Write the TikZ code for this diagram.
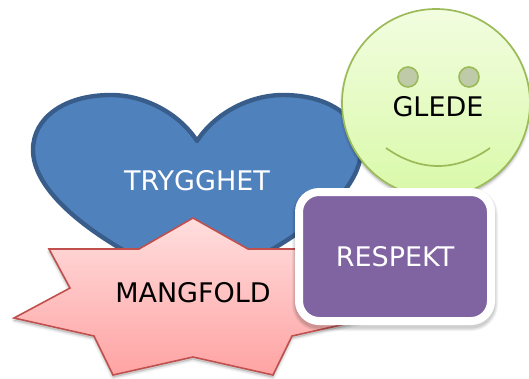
\documentclass[tikz,border=0pt]{standalone}
\usepackage{fontspec}
\setmainfont{DejaVu Sans}
\definecolor{heartfill}{HTML}{4F81BD}
\definecolor{heartline}{HTML}{385D8A}
\definecolor{starline}{HTML}{C0504D}
\definecolor{startop}{HTML}{FFDEDE}
\definecolor{starbot}{HTML}{FFA3A3}
\definecolor{facetop}{HTML}{F2FDE0}
\definecolor{facebot}{HTML}{D9F9A8}
\definecolor{faceline}{HTML}{9BBB59}
\definecolor{eyefill}{HTML}{BFCBA8}
\definecolor{boxfill}{HTML}{8064A2}
\tikzset{
  softshadow/.style={draw=black,fill=black,opacity=0.035,line join=round},
  heartshape/.style={draw=heartline,fill=heartfill,line width=4.4pt,line join=round},
  starshape/.style={draw=starline,line width=1.6pt,top color=startop,bottom color=starbot,line join=miter},
  faceshape/.style={draw=faceline,line width=1.7pt,top color=facetop,bottom color=facebot},
  eyeshape/.style={draw=faceline,fill=eyefill,line width=1.6pt},
  boxshape/.style={draw=white,fill=boxfill,line width=8pt,rounded corners=20pt},
  darklabel/.style={text=black,font=\fontsize{27}{32}\selectfont,inner sep=0pt},
  lightlabel/.style={text=white,font=\fontsize{27}{32}\selectfont,inner sep=0pt}
}
\newcommand{\starpath}{(193,218) -- (248,249) -- (337,249) -- (316,288) -- (372,318) -- (292,336) -- (273,375) -- (193,357) -- (113,375) -- (94,336) -- (14,318) -- (70,288) -- (49,249) -- (139,249) -- cycle}
\begin{document}
\begin{tikzpicture}[x=1pt,y=-1pt]
\useasboundingbox (0,0) rectangle (529,378);
% heart
\draw[heartshape] (197,141) .. controls (215,113) and (250,95) .. (283,95)
  .. controls (330,95) and (361,118) .. (361,150)
  .. controls (361,205) and (260,262) .. (197,285)
  .. controls (134,262) and (33,205) .. (33,150)
  .. controls (33,118) and (64,95) .. (111,95)
  .. controls (144,95) and (179,113) .. (197,141) -- cycle;
\node[lightlabel] (trygghet) at (197,181) {TRYGGHET};
% star
\foreach \w in {5,3.5,2,0.5}{
  \draw[softshadow,line width=\w pt,yshift=-2.5pt] \starpath;
}
\draw[starshape] \starpath;
\node[darklabel] (mangfold) at (193,293) {MANGFOLD};
% face
\foreach \w in {5,3.5,2,0.5}{
  \draw[softshadow,line width=\w pt] (436,105.5) circle[radius=94];
}
\draw[faceshape] (436,103) circle[radius=94];
\draw[eyeshape] (408,77) circle[radius=10];
\draw[eyeshape] (469,77) circle[radius=10];
\draw[faceline,line width=1.7pt] (386,148) .. controls (420,172) and (456,172) .. (490,148);
\node[darklabel] (glede) at (438,107) {GLEDE};
% box
\foreach \w in {14,12,10,8.5}{
  \draw[black,opacity=0.05,line width=\w pt,rounded corners=20pt,yshift=-3pt] (299,192) rectangle (491,321);
}
\draw[boxshape] (299,192) rectangle (491,321);
\node[lightlabel] (respekt) at (395,257) {RESPEKT};
\end{tikzpicture}
\end{document}
